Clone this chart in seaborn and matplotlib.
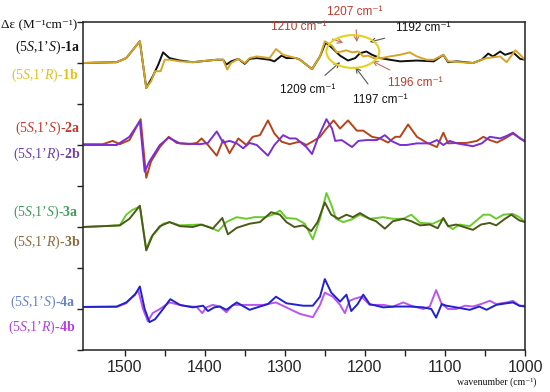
import numpy as np
import pandas as pd
import matplotlib
matplotlib.use("Agg")
import matplotlib.pyplot as plt
from matplotlib.patches import Ellipse
from matplotlib.ticker import FixedLocator
import seaborn as sns

# ---------------- data (wavenumber, delta-epsilon relative to each trace baseline) -------------
wn_1a = [1552, 1510, 1498, 1481, 1473, 1465, 1458, 1452, 1444, 1431, 1415, 1385, 1377, 1373, 1367, 1358,
         1350, 1344, 1335, 1319, 1313, 1304, 1298, 1286, 1281, 1266, 1256, 1249, 1241, 1231, 1221, 1212,
         1206, 1198, 1191, 1181, 1169, 1156, 1135, 1114, 1102, 1096, 1085, 1065, 1054, 1046, 1040, 1031,
         1025, 1015, 1006, 1000]
de_1a = [0.0, 0.02, 0.12, 0.53, -0.61, -0.33, -0.04, 0.26, 0.12, 0.06, 0.02, 0.08, 0.08, -0.04, 0.04, 0.10,
         -0.02, 0.10, 0.12, 0.08, 0.04, 0.18, 0.12, 0.12, 0.08, -0.15, 0.16, 0.50, 0.37, 0.18, 0.06, 0.12,
         0.24, 0.28, 0.20, 0.12, 0.08, 0.04, 0.06, 0.04, 0.20, 0.02, 0.04, 0.0, 0.08, 0.23, 0.16, 0.28,
         0.20, 0.26, 0.10, 0.08]

wn_1b = [1552, 1510, 1498, 1481, 1473, 1467, 1462, 1455, 1450, 1444, 1431, 1415, 1385, 1377, 1372, 1367,
         1358, 1350, 1344, 1335, 1319, 1311, 1302, 1286, 1281, 1266, 1256, 1250, 1241, 1235, 1229, 1223,
         1216, 1208, 1202, 1196, 1189, 1179, 1169, 1156, 1144, 1135, 1123, 1114, 1102, 1096, 1081, 1065,
         1048, 1031, 1023, 1012, 1006, 1000]
de_1b = [0.0, 0.02, 0.12, 0.53, -0.61, -0.45, -0.20, -0.20, 0.08, 0.08, 0.04, 0.02, 0.08, 0.08, -0.16, 0.0,
         0.10, 0.0, 0.12, 0.16, 0.12, 0.34, 0.20, 0.12, 0.08, -0.15, 0.16, 0.53, 0.42, 0.26, 0.28, 0.31,
         0.26, 0.28, 0.16, 0.18, 0.12, 0.12, 0.16, 0.20, 0.26, 0.16, 0.08, 0.08, 0.20, 0.04, 0.02, 0.0,
         0.12, 0.16, 0.02, 0.31, 0.20, 0.08]

wn_2a = [1552, 1527, 1515, 1506, 1494, 1480, 1473, 1467, 1456, 1445, 1435, 1419, 1410, 1404, 1396, 1385,
         1377, 1369, 1358, 1348, 1340, 1331, 1321, 1313, 1304, 1294, 1286, 1281, 1273, 1264, 1256, 1248,
         1239, 1231, 1221, 1210, 1202, 1191, 1181, 1171, 1162, 1156, 1146, 1135, 1123, 1110, 1102, 1096,
         1085, 1073, 1060, 1052, 1044, 1035, 1025, 1015, 1006, 1000]
de_2a = [0.02, 0.02, 0.10, 0.02, 0.12, 0.63, -0.80, -0.40, -0.05, 0.20, 0.05, 0.02, 0.05, 0.16, 0.0, -0.26,
         0.12, -0.20, 0.16, 0.0, 0.20, 0.24, 0.60, 0.28, 0.08, 0.02, 0.06, 0.08, 0.0, 0.10, 0.20, 0.40,
         0.60, 0.40, 0.60, 0.35, 0.35, 0.20, 0.16, 0.06, 0.20, 0.20, 0.50, 0.20, 0.06, -0.05, 0.30, 0.04,
         0.05, 0.05, 0.10, 0.20, 0.12, 0.06, 0.16, 0.28, 0.16, 0.08]

wn_2b = [1552, 1510, 1494, 1481, 1475, 1469, 1456, 1445, 1431, 1406, 1396, 1385, 1377, 1369, 1360, 1352,
         1344, 1335, 1321, 1313, 1302, 1294, 1286, 1281, 1273, 1266, 1258, 1248, 1241, 1237, 1229, 1216,
         1208, 1198, 1185, 1175, 1167, 1156, 1148, 1135, 1119, 1110, 1102, 1094, 1085, 1065, 1054, 1044,
         1031, 1023, 1015, 1006, 1000]
de_2b = [0.0, 0.0, 0.20, 0.58, -0.65, -0.40, 0.0, 0.18, 0.04, 0.02, 0.05, 0.33, 0.06, 0.10, 0.04, -0.08,
         0.05, 0.0, -0.26, 0.0, 0.24, 0.16, 0.16, 0.08, -0.05, -0.22, 0.20, 0.63, 0.40, 0.10, 0.12, -0.05,
         0.10, 0.12, 0.12, 0.24, 0.10, 0.0, 0.0, 0.04, 0.04, 0.12, 0.0, 0.10, 0.04, -0.03, 0.04, 0.20,
         0.16, 0.22, 0.30, 0.16, 0.10]

wn_3a = [1552, 1506, 1498, 1490, 1481, 1473, 1467, 1452, 1444, 1431, 1406, 1394, 1383, 1373, 1360, 1348,
         1338, 1325, 1315, 1306, 1298, 1286, 1275, 1265, 1256, 1248, 1242, 1236, 1227, 1217, 1206, 1194,
         1177, 1165, 1152, 1142, 1131, 1115, 1102, 1096, 1090, 1082, 1069, 1052, 1044, 1036, 1027, 1015,
         1007, 1000]
de_3a = [0.0, 0.04, 0.30, 0.42, 0.50, -0.55, -0.25, 0.08, 0.12, 0.04, 0.06, 0.0, -0.10, 0.12, 0.24, 0.20,
         0.24, 0.24, 0.30, 0.40, 0.22, 0.20, 0.08, -0.30, 0.20, 0.83, 0.55, 0.20, 0.12, 0.18, 0.30, 0.20,
         0.24, 0.20, 0.20, 0.30, 0.10, 0.08, 0.20, 0.02, -0.05, 0.06, 0.02, 0.30, 0.30, 0.20, 0.30, 0.32,
         0.24, 0.12]

wn_3b = [1552, 1527, 1506, 1494, 1481, 1473, 1465, 1456, 1444, 1431, 1415, 1404, 1390, 1378, 1371, 1360,
         1344, 1331, 1317, 1306, 1298, 1288, 1277, 1267, 1259, 1250, 1242, 1233, 1223, 1215, 1206, 1194,
         1186, 1175, 1165, 1152, 1142, 1131, 1119, 1109, 1102, 1096, 1086, 1065, 1055, 1044, 1036, 1025,
         1017, 1007, 1000]
de_3b = [0.0, 0.02, 0.04, 0.20, 0.52, -0.57, -0.20, 0.02, 0.12, 0.02, 0.0, 0.06, -0.04, 0.22, -0.18, -0.02,
         0.08, 0.12, 0.36, 0.30, 0.12, 0.0, 0.04, -0.10, 0.12, 0.60, 0.30, 0.20, 0.30, 0.24, 0.34, 0.20,
         0.14, -0.04, 0.14, 0.20, 0.14, 0.04, 0.06, -0.03, 0.22, 0.02, 0.06, -0.07, 0.06, 0.10, 0.04, 0.20,
         0.30, 0.16, 0.12]

wn_4a = [1552, 1510, 1498, 1487, 1481, 1475, 1469, 1462, 1452, 1443, 1431, 1415, 1402, 1396, 1388, 1381,
         1373, 1360, 1344, 1331, 1321, 1311, 1298, 1277, 1265, 1256, 1250, 1242, 1231, 1223, 1217, 1209,
         1202, 1194, 1177, 1161, 1144, 1127, 1117, 1111, 1104, 1098, 1086, 1069, 1057, 1048, 1036, 1023,
         1015, 1007, 1000]
de_4a = [0.05, 0.06, 0.16, 0.35, 0.55, 0.0, -0.32, -0.25, 0.0, 0.24, 0.10, 0.04, 0.08, -0.05, 0.04, 0.06,
         -0.02, 0.16, -0.02, 0.06, 0.12, 0.30, 0.14, 0.08, 0.08, 0.30, 0.73, 0.40, 0.18, 0.35, -0.05, 0.12,
         0.35, 0.12, 0.04, 0.06, 0.06, 0.04, 0.0, -0.21, 0.12, 0.08, 0.04, -0.02, 0.06, -0.02, 0.10, 0.14,
         0.16, 0.08, 0.06]

wn_4b = [1552, 1510, 1498, 1483, 1477, 1471, 1465, 1456, 1444, 1427, 1410, 1403, 1398, 1390, 1381, 1373,
         1365, 1356, 1344, 1327, 1311, 1294, 1281, 1265, 1256, 1250, 1240, 1231, 1225, 1219, 1213, 1204,
         1194, 1177, 1165, 1152, 1142, 1127, 1119, 1111, 1104, 1096, 1086, 1075, 1065, 1055, 1044, 1036,
         1023, 1015, 1007, 1000]
de_4b = [0.05, 0.05, 0.14, 0.45, 0.0, -0.30, -0.10, 0.0, 0.16, 0.08, 0.05, -0.10, 0.04, 0.10, 0.06, -0.08,
         0.10, 0.10, 0.10, 0.10, 0.16, 0.0, -0.12, -0.20, 0.10, 0.40, 0.30, 0.10, -0.10, 0.20, 0.25, 0.30,
         0.10, 0.10, 0.06, 0.16, 0.08, 0.0, 0.06, 0.46, 0.12, 0.0, 0.0, 0.08, 0.06, 0.12, 0.20, 0.12,
         0.16, 0.20, 0.08, 0.08]

x_ticks = [1500, 1400, 1300, 1200, 1100, 1000]
x_label = "wavenumber (cm\u207b\u00b9)"
y_label = "\u0394\u03b5 (M\u207b\u00b9cm\u207b\u00b9)"

peak_labels = ["1210 cm\u207b\u00b9", "1207 cm\u207b\u00b9", "1192 cm\u207b\u00b9",
               "1209 cm\u207b\u00b9", "1197 cm\u207b\u00b9", "1196 cm\u207b\u00b9"]

# ---------------- style -------------
sns.set_style("white")
plt.rcParams['font.family'] = ['Liberation Serif', 'DejaVu Serif']
plt.rcParams['mathtext.fontset'] = 'custom'
plt.rcParams['mathtext.rm'] = 'Liberation Serif'
plt.rcParams['mathtext.it'] = 'Liberation Serif:italic'
plt.rcParams['mathtext.bf'] = 'Liberation Serif:bold'

fig = plt.figure(figsize=(5.5, 3.92), dpi=100)
ax = fig.add_axes([83/550, 1-350/392, (525-83)/550, (350-22)/392])

series = [
    (wn_1a, de_1a, 7, "#111111"),
    (wn_1b, de_1b, 7, "#D4A628"),
    (wn_2a, de_2a, 5, "#B4441C"),
    (wn_2b, de_2b, 5, "#7A2ED6"),
    (wn_3a, de_3a, 3, "#6ACC2C"),
    (wn_3b, de_3b, 3, "#4B5A18"),
    (wn_4b, de_4b, 1, "#BB55EE"),
    (wn_4a, de_4a, 1, "#2222CC"),
]
for wn, de, off, col in series:
    df = pd.DataFrame({"wn": wn, "de": np.array(de) + off})
    sns.lineplot(data=df, x="wn", y="de", ax=ax, color=col, lw=1.4, estimator=None, sort=False)

ax.set_xlim(1552, 1000)
ax.set_ylim(0, 8)
ax.set_xlabel("")
ax.set_ylabel("")
ax.xaxis.set_major_locator(FixedLocator(x_ticks))
ax.xaxis.set_minor_locator(FixedLocator([1450, 1350, 1250, 1150, 1050]))
ax.set_yticks(range(0, 9))
ax.set_yticklabels([])
ax.tick_params(axis='both', which='both', direction='out', length=4, width=1.0, color='#222222',
               bottom=True, left=True)
ax.tick_params(axis='x', labelsize=11.5, pad=3)
for lab in ax.get_xticklabels():
    lab.set_family(['Liberation Sans', 'DejaVu Sans'])
for sp in ax.spines.values():
    sp.set_linewidth(1.1)
    sp.set_color('#222222')

# series labels (right edge in pixels, centre y in pixels)
labels = [
    (r"(5$\it{S}$,1’$\it{S}$)-$\bf{1a}$", 47, "#111111", 80),
    (r"(5$\it{S}$,1’$\it{R}$)-$\bf{1b}$", 75, "#E0C21E", 78),
    (r"(5$\it{S}$,1’$\it{S}$)-$\bf{2a}$", 128, "#C0392B", 80),
    (r"(5$\it{S}$,1’$\it{R}$)-$\bf{2b}$", 154, "#7040A8", 80),
    (r"(5$\it{S}$,1’$\it{S}$)-$\bf{3a}$", 212, "#3E9A5A", 78),
    (r"(5$\it{S}$,1’$\it{R}$)-$\bf{3b}$", 242, "#8B6A3A", 80),
    (r"(5$\it{S}$,1’$\it{S}$)-$\bf{4a}$", 302, "#6A80C8", 75),
    (r"(5$\it{S}$,1’$\it{R}$)-$\bf{4b}$", 327, "#B040E0", 75),
]
for txt, py, col, px in labels:
    fig.text(px/550, 1-py/392, txt, color=col, fontsize=10, va='center', ha='right')

fig.text(77/550, 1-25/392, y_label, fontsize=9.5, va='center', ha='right', color='#111111')
fig.text(536/550, 1-382/392, x_label, fontsize=7, va='center', ha='right', color='#111111')

# ellipse & annotations
ax.add_patch(Ellipse((1215, 7.28), 66, 0.80, fill=False, ec="#E6D020", lw=1.5, zorder=5))
sans = ['Liberation Sans', 'DejaVu Sans']
ann = [
    (peak_labels[0], (1227, 7.49), (1283, 7.88), "#C0392B", "#C07060"),
    (peak_labels[1], (1210, 7.51), (1212, 8.24), "#C0392B", "#C07060"),
    (peak_labels[2], (1194, 7.51), (1127, 7.85), "#111111", "#555555"),
    (peak_labels[3], (1231, 7.02), (1271, 6.34), "#111111", "#555555"),
    (peak_labels[4], (1212, 6.90), (1181, 6.10), "#111111", "#555555"),
    (peak_labels[5], (1191, 7.05), (1137, 6.51), "#C0392B", "#C07060"),
]
for txt, tip, pos, tcol, acol in ann:
    ax.annotate(txt, xy=tip, xytext=pos, color=tcol, fontsize=8.5, family=sans,
                ha='center', va='center', annotation_clip=False,
                arrowprops=dict(arrowstyle='->', color=acol, lw=0.8, shrinkA=6, shrinkB=0))

fig.savefig("out.png", dpi=100)
